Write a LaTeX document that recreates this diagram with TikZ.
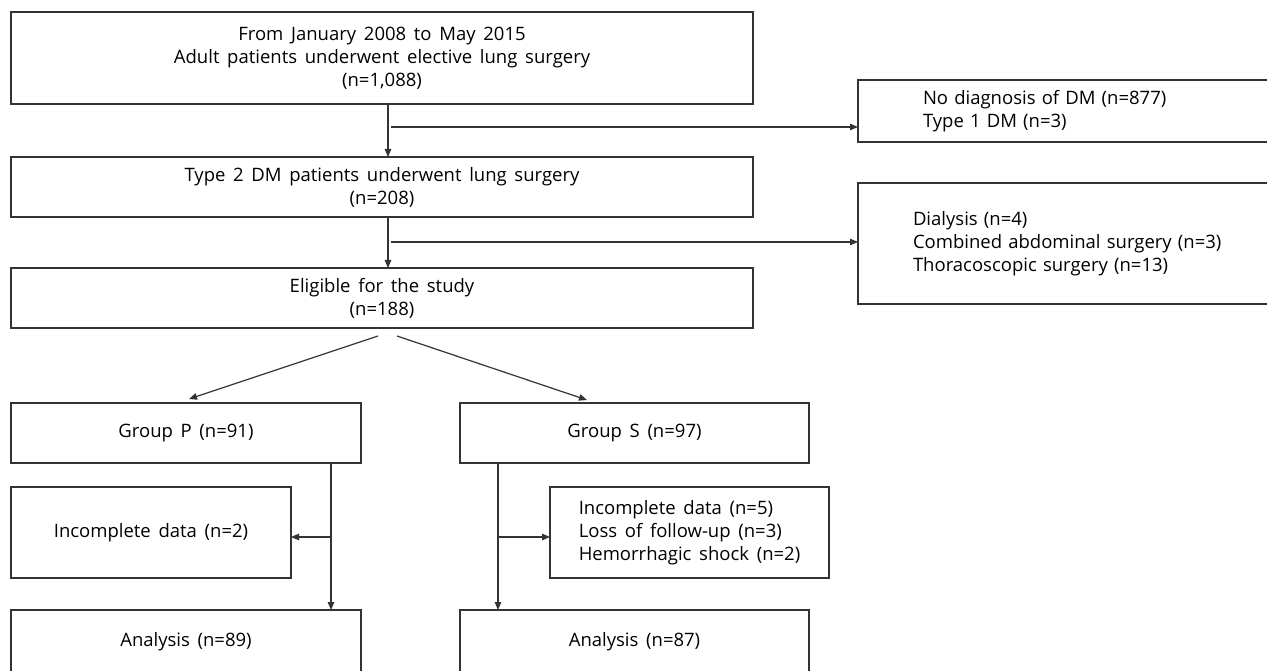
\documentclass[tikz,border=0pt]{standalone}
\usepackage{fontspec}
\setmainfont[WordSpace=1.6]{Open Sans}
\usepgflibrary{arrows.meta}
\tikzset{
  box/.style={draw=black!80, line width=1.4pt, rectangle, anchor=north west, outer sep=0pt,
    inner sep=0pt, align=center, font=\fontsize{18.5}{23}\selectfont},
  arr/.style={draw=black!80, line width=1.2pt, -{Triangle[length=8pt,width=6.5pt]}},
}
\def\flowbox#1#2#3#4#5#6#7{
  % 1: extra options
  % 2: name
  % 3: left
  % 4: top
  % 5: right
  % 6: bottom
  % 7: text
  \node[box, minimum width={(#5-#3)*1pt}, minimum height={(#6-#4)*1pt}, #1] (#2) at (#3,#4) {#7};
}

\begin{document}
\begin{tikzpicture}[x=1pt,y=-1pt]
  \fill[white] (0,0) rectangle (1267,671);
  \useasboundingbox (0,0) rectangle (1267,671);
  % \flowbox{opts}{name}{left}{top}{right}{bottom}{text}
  \flowbox{}{all}{11}{12}{753}{104}{From January 2008 to May 2015\\Adult patients underwent elective lung surgery\\(n=1,088)}
  \flowbox{}{dmtwo}{11}{157}{753}{217}{Type 2 DM patients underwent lung surgery\\(n=208)}
  \flowbox{}{elig}{11}{268}{753}{328}{Eligible for the study\\(n=188)}
  \flowbox{align=left, inner xsep=65pt, text width=512pt}{exclA}{858}{80}{1500}{142}{No diagnosis of DM (n=877)\\Type 1 DM (n=3)}
  \flowbox{align=left, inner xsep=55pt, text width=532pt}{exclB}{858}{183}{1500}{304}{Dialysis (n=4)\\Combined abdominal surgery (n=3)\\Thoracoscopic surgery (n=13)}
  \flowbox{}{grpP}{11}{403}{361}{463}{Group P (n=91)}
  \flowbox{}{grpS}{460}{403}{809}{463}{Group S (n=97)}
  \flowbox{}{lossP}{11}{487}{291}{578}{Incomplete data (n=2)}
  \flowbox{align=left}{lossS}{550}{487}{829}{578}{Incomplete data (n=5)\\Loss of follow-up (n=3)\\Hemorrhagic shock (n=2)}
  \flowbox{}{anaP}{11}{610}{361}{674}{Analysis (n=89)}
  \flowbox{}{anaS}{460}{610}{809}{674}{Analysis (n=87)}

  % screening
  \coordinate (vA) at (388,0);
  \coordinate (brA) at (391,127);
  \coordinate (brB) at (391,242);
  \draw[arr] (all.south -| vA) -- (dmtwo.north -| vA);
  \draw[arr] (brA) -- (brA -| exclA.west);
  \draw[arr] (dmtwo.south -| vA) -- (elig.north -| vA);
  \draw[arr] (brB) -- (brB -| exclB.west);

  % allocation
  \coordinate (spL) at (378,336);
  \coordinate (spR) at (397,336);
  \coordinate (tipP) at (189,399);
  \coordinate (tipS) at (587,400);
  \draw[arr] (spL) -- (tipP);
  \draw[arr] (spR) -- (tipS);

  % follow-up
  \coordinate (vP) at (331,0);
  \coordinate (vS) at (498,0);
  \coordinate (brP) at (331,537);
  \coordinate (brS) at (498,537);
  \draw[arr] (grpP.south -| vP) -- (anaP.north -| vP);
  \draw[arr] (brP) -- (brP -| lossP.east);
  \draw[arr] (grpS.south -| vS) -- (anaS.north -| vS);
  \draw[arr] (brS) -- (brS -| lossS.west);
\end{tikzpicture}
\end{document}
